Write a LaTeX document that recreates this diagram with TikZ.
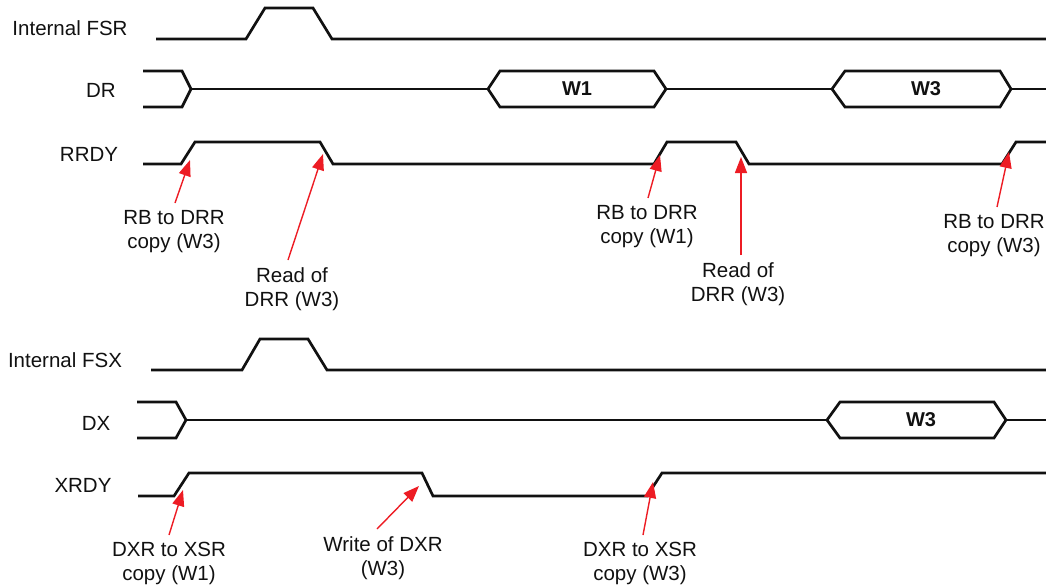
\documentclass[tikz,border=0pt]{standalone}
\usepackage{fontspec}
\setmainfont{Liberation Sans}
\usepackage{xcolor}
\usepackage{tikz}
\usetikzlibrary{arrows.meta,positioning}
\definecolor{ink}{HTML}{111111}
\definecolor{markred}{HTML}{ED1C24}

\begin{document}
\begin{tikzpicture}[x=1pt,y=-1pt]
    \tikzset{
      wave/.style={draw=ink,line width=2.7pt,line join=miter},
      sig/.style={font=\fontsize{20.5}{24}\selectfont,text=ink,inner sep=0pt},
      word/.style={font=\fontsize{20}{24}\selectfont\bfseries,text=ink,inner sep=0pt},
      note/.style={font=\fontsize{20.5}{24}\selectfont,text=ink,align=center,anchor=north,inner xsep=0pt,inner ysep=7pt},
      arrow/.style={-{Triangle[length=16pt,width=12pt]},draw=markred,line width=1.4pt}
    }
    \useasboundingbox (0,0) rectangle (1046,586);
    % signal names
    \node[sig] (fsr) at (70,28) {Internal FSR};
    \node[sig] (dr) at (101,90) {DR};
    \node[sig] (rrdy) at (89,154) {RRDY};
    \node[sig] (fsx) at (65,360) {Internal FSX};
    \node[sig] (dx) at (96,423) {DX};
    \node[sig] (xrdy) at (83,485) {XRDY};
    % receive side
    \draw[wave] (156,39) -- (246,39) -- (265,8) -- (313,8) -- (332,39) -- (1046,39);
    \draw[wave] (143,71) -- (182,71) -- (191,89) -- (182,107) -- (143,107);
    \draw[wave] (191,89) -- (488,89);
    \draw[wave] (488,89) -- (500,71) -- (654,71) -- (666,89) -- (654,107) -- (500,107) -- cycle;
    \draw[wave] (666,89) -- (832,89);
    \draw[wave] (832,89) -- (845,71) -- (1000,71) -- (1011,89) -- (1000,107) -- (845,107) -- cycle;
    \draw[wave] (1011,89) -- (1046,89);
    \node[word] (w1dr) at (577,89) {W1};
    \node[word] (w3dr) at (926,89) {W3};
    \draw[wave] (143,164) -- (181,164) -- (195,142) -- (320,142) -- (333,164) -- (654,164) -- (667,142)
      -- (736,142) -- (749,164) -- (1002,164) -- (1016,142) -- (1046,142);
    % transmit side
    \draw[wave] (151,370) -- (242,370) -- (260,339) -- (308,339) -- (327,370) -- (1046,370);
    \draw[wave] (137,402) -- (176,402) -- (186,420) -- (176,438) -- (137,438);
    \draw[wave] (186,420) -- (827,420);
    \draw[wave] (827,420) -- (840,402) -- (994,402) -- (1006,420) -- (994,438) -- (840,438) -- cycle;
    \draw[wave] (1006,420) -- (1046,420);
    \node[word] (w3dx) at (921,420) {W3};
    \draw[wave] (138,496) -- (174,496) -- (189,473) -- (422,473) -- (433,496) -- (647,496) -- (662,473) -- (1046,473);
    % edge points
    \coordinate (rrdyup1) at (190,160);
    \coordinate (rrdydn1) at (323,154);
    \coordinate (rrdyup2) at (660,155);
    \coordinate (rrdydn2) at (741,157);
    \coordinate (rrdyup3) at (1009,152);
    \coordinate (xrdyup1) at (183,490);
    \coordinate (xrdydn1) at (419,486);
    \coordinate (xrdyup2) at (653,482);
    % notes
    \node[note] (copy1) at (174,203) {RB to DRR\\copy (W3)};
    \node[note] (read1) at (292,260) {Read of\\DRR (W3)};
    \node[note] (copy2) at (647,198) {RB to DRR\\copy (W1)};
    \node[note] (read2) at (738,255) {Read of\\DRR (W3)};
    \node[note] (copy3) at (994,207) {RB to DRR\\copy (W3)};
    \node[note] (xcopy1) at (169,535) {DXR to XSR\\copy (W1)};
    \node[note] (write1) at (383,529) {Write of DXR\\(W3)};
    \node[note] (xcopy2) at (640,535) {DXR to XSR\\copy (W3)};
    \draw[arrow] ([xshift=1pt]copy1.north) -- (rrdyup1);
    \draw[arrow] ([xshift=-4pt]read1.north) -- (rrdydn1);
    \draw[arrow] ([xshift=1pt]copy2.north) -- (rrdyup2);
    \draw[arrow] ([xshift=3pt]read2.north) -- (rrdydn2);
    \draw[arrow] ([xshift=3pt]copy3.north) -- (rrdyup3);
    \draw[arrow] (xcopy1.north) -- (xrdyup1);
    \draw[arrow] ([xshift=-6pt]write1.north) -- (xrdydn1);
    \draw[arrow] ([xshift=3pt]xcopy2.north) -- (xrdyup2);
  \end{tikzpicture}
\end{document}
